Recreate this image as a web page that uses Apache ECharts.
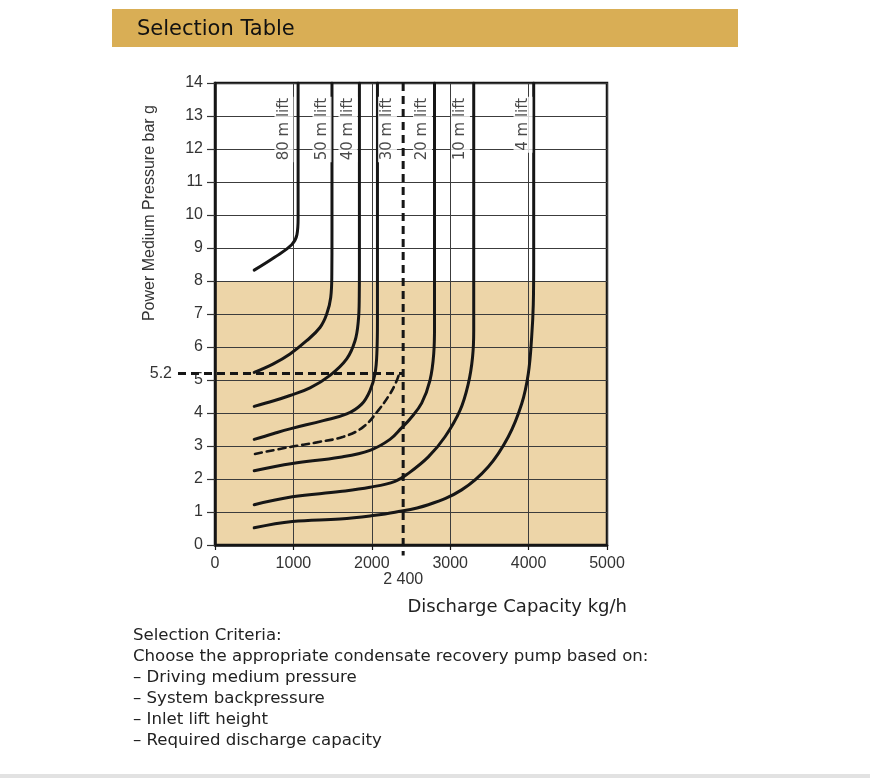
<!DOCTYPE html>
<html>
<head>
<meta charset="utf-8">
<script src="https://cdn.jsdelivr.net/npm/echarts@6/dist/echarts.min.js"></script>
<style>
  html, body { margin: 0; padding: 0; background: #fff; }
  #chart { width: 870px; height: 778px; }
</style>
</head>
<body>
<div id="chart"></div>
<script>
// lift curves: [discharge kg/h, pressure bar g]
const lift80 = [[500, 8.33], [760, 8.72], [978, 9.1], [1045, 9.4], [1060, 9.9], [1060, 11], [1060, 14]]
const lift50 = [[500, 5.23], [744, 5.49], [957, 5.79], [1169, 6.19], [1339, 6.59], [1424, 6.99], [1476, 7.5], [1490, 8.2], [1492, 9.5], [1492, 14]]
const lift40 = [[500, 4.2], [750, 4.37], [957, 4.53], [1212, 4.76], [1467, 5.14], [1680, 5.64], [1786, 6.19], [1828, 6.79], [1840, 7.5], [1842, 8.5], [1842, 14]]
const lift30 = [[500, 3.2], [750, 3.38], [957, 3.52], [1381, 3.77], [1680, 3.97], [1871, 4.27], [1977, 4.68], [2041, 5.19], [2066, 5.89], [2072, 6.79], [2072, 8], [2072, 14]]
const liftDashed = [[510, 2.76], [957, 2.97], [1297, 3.11], [1637, 3.28], [1892, 3.58], [2083, 4.08], [2232, 4.58], [2309, 4.93], [2345, 5.16]]
const lift20 = [[500, 2.25], [986, 2.47], [1594, 2.66], [1977, 2.87], [2232, 3.2], [2380, 3.55], [2487, 3.82], [2636, 4.3], [2742, 4.99], [2790, 5.8], [2800, 6.6], [2800, 8], [2800, 14]]
const lift10 = [[500, 1.22], [986, 1.46], [1594, 1.62], [1977, 1.75], [2296, 1.93], [2466, 2.17], [2721, 2.67], [2934, 3.28], [3125, 4.08], [3231, 4.89], [3285, 5.69], [3300, 6.5], [3300, 8], [3300, 14]]
const lift4 = [[500, 0.52], [986, 0.71], [1594, 0.79], [1977, 0.88], [2296, 0.99], [2721, 1.22], [3146, 1.67], [3486, 2.37], [3741, 3.28], [3912, 4.28], [3996, 5.19], [4039, 6.3], [4060, 7.3], [4065, 8.5], [4065, 14]]

const liftNames = ['80 m lift', '50 m lift', '40 m lift', '30 m lift', '20 m lift', '10 m lift', '4 m lift']
const liftLabelX = [880, 1365, 1696, 2200, 2647, 3131, 3929]
const liftLabelY = 13.58

// example selection: 5.2 bar g, 2 400 kg/h
const refLines = [[-472, 5.2, 2400, 5.2], [2400, 14, 2400, -0.32]]
const refLabels = ['5.2', '2 400']

// shaded operating zone
const shadedTop = 8
const shadedRange = [0, 5000]

const criteria = [
    'Selection Criteria:',
    'Choose the appropriate condensate recovery pump based on:',
    '\u2013 Driving medium pressure',
    '\u2013 System backpressure',
    '\u2013 Inlet lift height',
    '\u2013 Required discharge capacity'
]

const FONT = '"Liberation Sans", Arial, Helvetica, sans-serif'
const WIDE = '"DejaVu Sans", Verdana, sans-serif'
const INK = '#161616'

const chart = echarts.init(document.getElementById('chart'))

const curve = (name, data, dashed) => ({
    name,
    type: 'line',
    data,
    smooth: 0.4,
    symbol: 'none',
    silent: true,
    z: 3,
    lineStyle: {
        color: INK,
        width: dashed ? 2.6 : 3,
        type: dashed ? [7, 5] : 'solid',
        cap: 'round'
    }
})

const option = {
    backgroundColor: '#fff',
    animation: false,
    textStyle: { fontFamily: FONT },
    graphic: [
        { type: 'rect', left: 112, top: 9, shape: { width: 626, height: 38 }, style: { fill: '#D9AE55' } },
        { type: 'text', left: 137, top: 19, style: { text: 'Selection Table', font: '21px ' + WIDE, fill: '#111' } },
        { type: 'text', left: 142, top: 105, rotation: Math.PI / 2,
          style: { text: 'Power Medium Pressure bar g', font: '16px ' + FONT, fill: '#333' } },
        { type: 'text', right: 243, top: 598, style: { text: 'Discharge Capacity kg/h', font: '18px ' + WIDE, fill: '#222' } },
        { type: 'text', left: 133, top: 625, style: { text: criteria.join('\n'), font: '16.6px ' + WIDE, lineHeight: 21, fill: '#222' } },
        { type: 'rect', left: 0, top: 774, shape: { width: 870, height: 4 }, style: { fill: '#e2e2e2' } }
    ],
    grid: {
        left: 215, top: 83, width: 392, height: 462,
        show: true, borderColor: INK, borderWidth: 2.5, backgroundColor: 'transparent'
    },
    xAxis: {
        type: 'value', min: 0, max: 5000, interval: 1000,
        axisLine: { show: true, lineStyle: { color: INK, width: 2.5 } },
        axisTick: { show: true, length: 5, lineStyle: { color: INK, width: 1.2 } },
        axisLabel: { color: '#333', fontSize: 16, margin: 11, fontFamily: FONT, formatter: v => String(v) },
        splitLine: { show: true, lineStyle: { color: '#3c3c3c', width: 1 } }
    },
    yAxis: {
        type: 'value', min: 0, max: 14, interval: 1,
        axisLine: { show: true, lineStyle: { color: INK, width: 2.5 } },
        axisTick: { show: true, length: 8, lineStyle: { color: '#333', width: 1.2 } },
        axisLabel: { color: '#333', fontSize: 16, margin: 12, fontFamily: FONT },
        splitLine: { show: true, lineStyle: { color: '#3c3c3c', width: 1 } }
    },
    series: [
        {
            name: 'zone',
            type: 'line',
            data: shadedRange.map(x => [x, shadedTop]),
            symbol: 'none',
            silent: true,
            z: -1,
            lineStyle: { width: 0, opacity: 0 },
            areaStyle: { color: '#EDD5A8', opacity: 1, origin: 'start' }
        },
        curve('80 m', lift80),
        curve('50 m', lift50),
        curve('40 m', lift40),
        curve('30 m', lift30),
        curve('dashed', liftDashed, true),
        curve('20 m', lift20),
        curve('10 m', lift10),
        curve('4 m', lift4),
        {
            name: 'selection',
            type: 'custom',
            silent: true,
            z: 4,
            data: refLines,
            encode: { x: [0, 2], y: [1, 3] },
            renderItem: (params, api) => {
                const a = api.coord([api.value(0), api.value(1)])
                const b = api.coord([api.value(2), api.value(3)])
                const horizontal = params.dataIndex === 0
                return {
                    type: 'group',
                    children: [
                        { type: 'line', shape: { x1: a[0], y1: a[1], x2: b[0], y2: b[1] },
                          style: { stroke: INK, lineWidth: 3, lineDash: [8, 5] } },
                        { type: 'text',
                          x: horizontal ? a[0] - 6 : b[0],
                          y: horizontal ? a[1] : b[1] + 16,
                          style: { text: refLabels[params.dataIndex], font: '16px ' + FONT, fill: '#333',
                                   align: horizontal ? 'right' : 'center', verticalAlign: horizontal ? 'middle' : 'top' } }
                    ]
                }
            }
        },
        {
            name: 'lift labels',
            type: 'scatter',
            symbolSize: 0,
            silent: true,
            z: 5,
            data: liftNames.map((n, i) => ({ value: [liftLabelX[i], liftLabelY], name: n })),
            label: {
                show: true,
                formatter: p => p.name,
                position: 'inside',
                align: 'right',
                verticalAlign: 'middle',
                rotate: 90,
                color: '#1c1c1c',
                fontSize: 15,
                fontFamily: WIDE,
                backgroundColor: '#fff',
                padding: [2, 1, 2, 2]
            }
        }
    ]
}

option && chart.setOption(option)
</script>
</body>
</html>
